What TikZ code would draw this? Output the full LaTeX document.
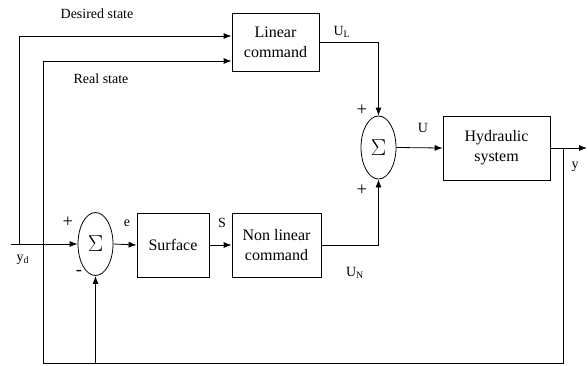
\documentclass[tikz,border=0pt]{standalone}
\usepackage{fontspec}
\setmainfont{Liberation Serif}
\usetikzlibrary{shapes.geometric,arrows.meta}
\begin{document}
\begin{tikzpicture}[
    x=0.75pt, y=-0.75pt,
    line width=0.6pt,
    >={Latex[length=6pt,width=4.5pt]},
    block/.style={draw, rectangle, minimum height=48pt, align=center, font=\fontsize{12}{15}\selectfont},
    sum/.style={draw, ellipse, minimum width=26.25pt, minimum height=47.25pt, inner sep=0pt, font=\fontsize{17}{18}\selectfont},
    lbl/.style={inner sep=0pt, font=\fontsize{10.5}{12}\selectfont},
    sgn/.style={inner sep=0pt, font=\fontsize{14}{15}\selectfont}
]
\useasboundingbox (0,0) rectangle (588,365);
% blocks
\node[block, minimum width=65.25pt, minimum height=43.5pt] (lin) at (275.5,42) {Linear\\command};
\node[sum] (s1) at (95.5,244) {$\Sigma$};
\node[block, minimum width=54pt] (surf) at (173,245) {Surface};
\node[block, minimum width=66.75pt] (nlin) at (276.5,245) {Non linear\\command};
\node[sum] (s2) at (378.5,147.5) {$\Sigma$};
\node[block, minimum width=80.25pt] (hyd) at (496.5,148) {Hydraulic\\system};
% free ends
\coordinate (yd) at (11,244);
\coordinate (dtap) at (19,244);
\coordinate (yout) at (587,148);
\coordinate (ytap) at (563,148);
\coordinate (fb) at (43,363);
% connectors
\draw[->] (yd) -- (s1.west);
\draw[->] (dtap) |- ([yshift=4.5pt]lin.west);
\draw[->] (ytap) |- (fb) |- ([yshift=-14.25pt]lin.west);
\draw[->] (s1.south |- fb) -- (s1.south);
\draw[->] (s1.east) -- (surf.west);
\draw[->] (surf.east) -- (nlin.west);
\draw[->] (lin.east) -| (s2.north);
\draw[->] (nlin.east) -| (s2.south);
\draw[->] (s2.east) -- (hyd.west);
\draw[->] (hyd.east) -- (yout);
% labels
\node[lbl] (ldes) at (97,14) {Desired state};
\node[lbl] (lreal) at (101,79) {Real state};
\node[lbl] (lul) at (342,32) {U\textsubscript{L}};
\node[lbl] (lu) at (423,128) {U};
\node[lbl] (lun) at (355,273) {U\textsubscript{N}};
\node[lbl] (le) at (127,223) {e};
\node[lbl] (ls) at (222,223) {S};
\node[lbl] (lyd) at (23,260) {y\textsubscript{d}};
\node[lbl] (ly) at (575,167) {y};
\node[sgn] (p1) at (68,222) {+};
\node[sgn] (m1) at (79,273) {-};
\node[sgn] (p2) at (362,110) {+};
\node[sgn] (p3) at (362,190) {+};
\end{tikzpicture}
\end{document}
